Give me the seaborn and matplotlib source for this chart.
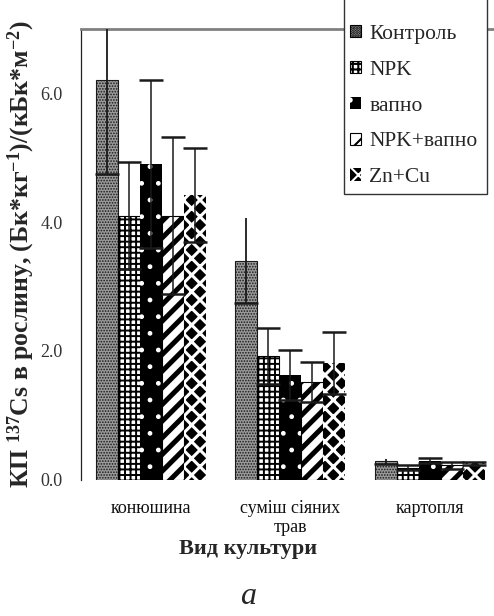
import numpy as np
import pandas as pd
import matplotlib
matplotlib.use("Agg")
import matplotlib.pyplot as plt
from matplotlib.patches import Patch, Rectangle
import seaborn as sns

# ---------------- data ----------------
crops = ["конюшина", "суміш сіяних\nтрав", "картопля"]
treatments = ["Контроль", "NPK", "вапно", "NPK+вапно", "Zn+Cu"]

control = [6.20, 3.40, 0.28]
control_err = [1.45, 0.66, 0.04]
npk = [4.10, 1.92, 0.18]
npk_err = [0.83, 0.43, 0.04]
vapno = [4.90, 1.62, 0.29]
vapno_err = [1.30, 0.39, 0.04]
npk_vapno = [4.10, 1.51, 0.22]
npk_vapno_err = [1.22, 0.31, 0.05]
zncu = [4.42, 1.81, 0.25]
zncu_err = [0.73, 0.48, 0.02]

yticks = [0.0, 2.0, 4.0, 6.0]
ytick_labels = ["0.0", "2.0", "4.0", "6.0"]

values = [control, npk, vapno, npk_vapno, zncu]
errors = [control_err, npk_err, vapno_err, npk_vapno_err, zncu_err]

df = pd.DataFrame({
    "crop": [c for _ in treatments for c in crops],
    "treatment": [t for t in treatments for _ in crops],
    "value": [v for vals in values for v in vals],
})

# ---------------- style ----------------
sns.set_style("white")
plt.rcParams["font.family"] = ["Liberation Serif", "DejaVu Serif"]
plt.rcParams["mathtext.fontset"] = "custom"
plt.rcParams["mathtext.rm"] = "Liberation Serif"
plt.rcParams["mathtext.bf"] = "Liberation Serif:bold"
plt.rcParams["hatch.linewidth"] = 1.0

styles = {
    "Контроль": dict(face="#9a9a9a", edge="#1a1a1a", hatch="......", hlw=0.8),
    "NPK": dict(face="white", edge="black", hatch="+++", hlw=1.4),
    "вапно": dict(face="black", edge="white", hatch=".", hlw=1.0),
    "NPK+вапно": dict(face="white", edge="black", hatch="//", hlw=3.6),
    "Zn+Cu": dict(face="black", edge="white", hatch="xx", hlw=2.2),
}

fig = plt.figure(figsize=(4.94, 6.16), dpi=100)
ax = fig.add_axes([81 / 494, (616 - 479.5) / 616, 418.5 / 494, 450.5 / 616])

sns.barplot(data=df, x="crop", y="value", hue="treatment", order=crops,
            hue_order=treatments, errorbar=None, width=0.79, gap=0,
            ax=ax, legend=False, color="white")

def style_patch(p, st, hlw=None):
    p.set_facecolor(st["face"])
    p.set_edgecolor(st["edge"])
    p.set_hatch(st["hatch"])
    p.set_linewidth(0.8 if st["edge"] != "white" else 0.0)
    try:
        p.set_hatch_linewidth(st["hlw"] if hlw is None else hlw)
    except Exception:
        pass

for cont, t, errs in zip(ax.containers, treatments, errors):
    st = styles[t]
    xs, hs = [], []
    for bar in cont:
        style_patch(bar, st)
        xs.append(bar.get_x() + bar.get_width() / 2)
        hs.append(bar.get_height())
    eb = ax.errorbar(xs, hs, yerr=errs, fmt="none", ecolor="#1a1a1a",
                     elinewidth=1.3 if t == "Контроль" else 1.1,
                     capsize=8.5, capthick=1.8, zorder=5)
    if t == "Контроль":
        for cl in eb.lines[1]:
            yd = np.asarray(cl.get_ydata())
            if np.all(yd > np.asarray(hs)):
                cl.set_visible(False)

ax.set_ylim(0, 7.0)
ax.set_xlim(-0.5, 2.5)
ax.set_yticks(yticks)
ax.set_yticklabels(ytick_labels)
ax.tick_params(axis="y", direction="in", length=3, width=0.8, color="#555555",
               labelsize=13, labelcolor="#333333", pad=13)
ax.tick_params(axis="x", length=0, labelsize=13, labelcolor="#111111", pad=15)
for lbl in ax.get_xticklabels():
    lbl.set_linespacing(1.15)
ax.set_xlabel("")
ax.set_ylabel("")

for s in ["right", "bottom"]:
    ax.spines[s].set_visible(False)
ax.spines["top"].set_color("#808080")
ax.spines["top"].set_linewidth(2)
ax.spines["left"].set_color("#222222")
ax.spines["left"].set_linewidth(0.9)

# axis titles
fig.text(21 / 494, 1 - 254 / 616,
         r"КП $\mathbf{^{137}}$Cs в рослину, (Бк*кг$\mathbf{^{-1}}$)/(кБк*м$\mathbf{^{-2}}$)",
         rotation=90, ha="center", va="center", fontsize=18.5, fontweight="bold")
fig.text(248 / 494, 1 - 549 / 616, "Вид культури", ha="center", va="center",
         fontsize=16, fontweight="bold")
fig.text(248 / 494, 1 - 596 / 616, "а", ha="center", va="center",
         fontsize=23, style="italic")

# legend
frame = Rectangle((344 / 494, 1 - 194 / 616), 143 / 494, 204 / 616,
                  transform=fig.transFigure, facecolor="white",
                  edgecolor="#333333", linewidth=1.0, zorder=10)
fig.add_artist(frame)
handles = []
for t in treatments:
    st = styles[t]
    h = Patch(facecolor=st["face"], edgecolor=st["edge"], hatch=st["hatch"],
              linewidth=0.8, label=t)
    handles.append(h)
leg = fig.legend(handles=handles, loc="upper left",
                 bbox_to_anchor=(350 / 494, 1 - 25 / 616),
                 frameon=False, fontsize=15.5, handlelength=0.5,
                 handleheight=0.5, handletextpad=0.4, labelspacing=0.78,
                 borderpad=0, borderaxespad=0)
leg.set_zorder(11)
for lp in leg.get_patches():
    lp.set_edgecolor("black")
    lp.set_linewidth(0.8)
    try:
        lp.set_hatch_linewidth(1.5)
    except Exception:
        pass
# keep white hatch on black legend keys
for lp, t in zip(leg.get_patches(), treatments):
    if styles[t]["edge"] == "white":
        lp.set_edgecolor("white")
        lp.set_linewidth(0.0)

fig.savefig("out.png", dpi=100)
